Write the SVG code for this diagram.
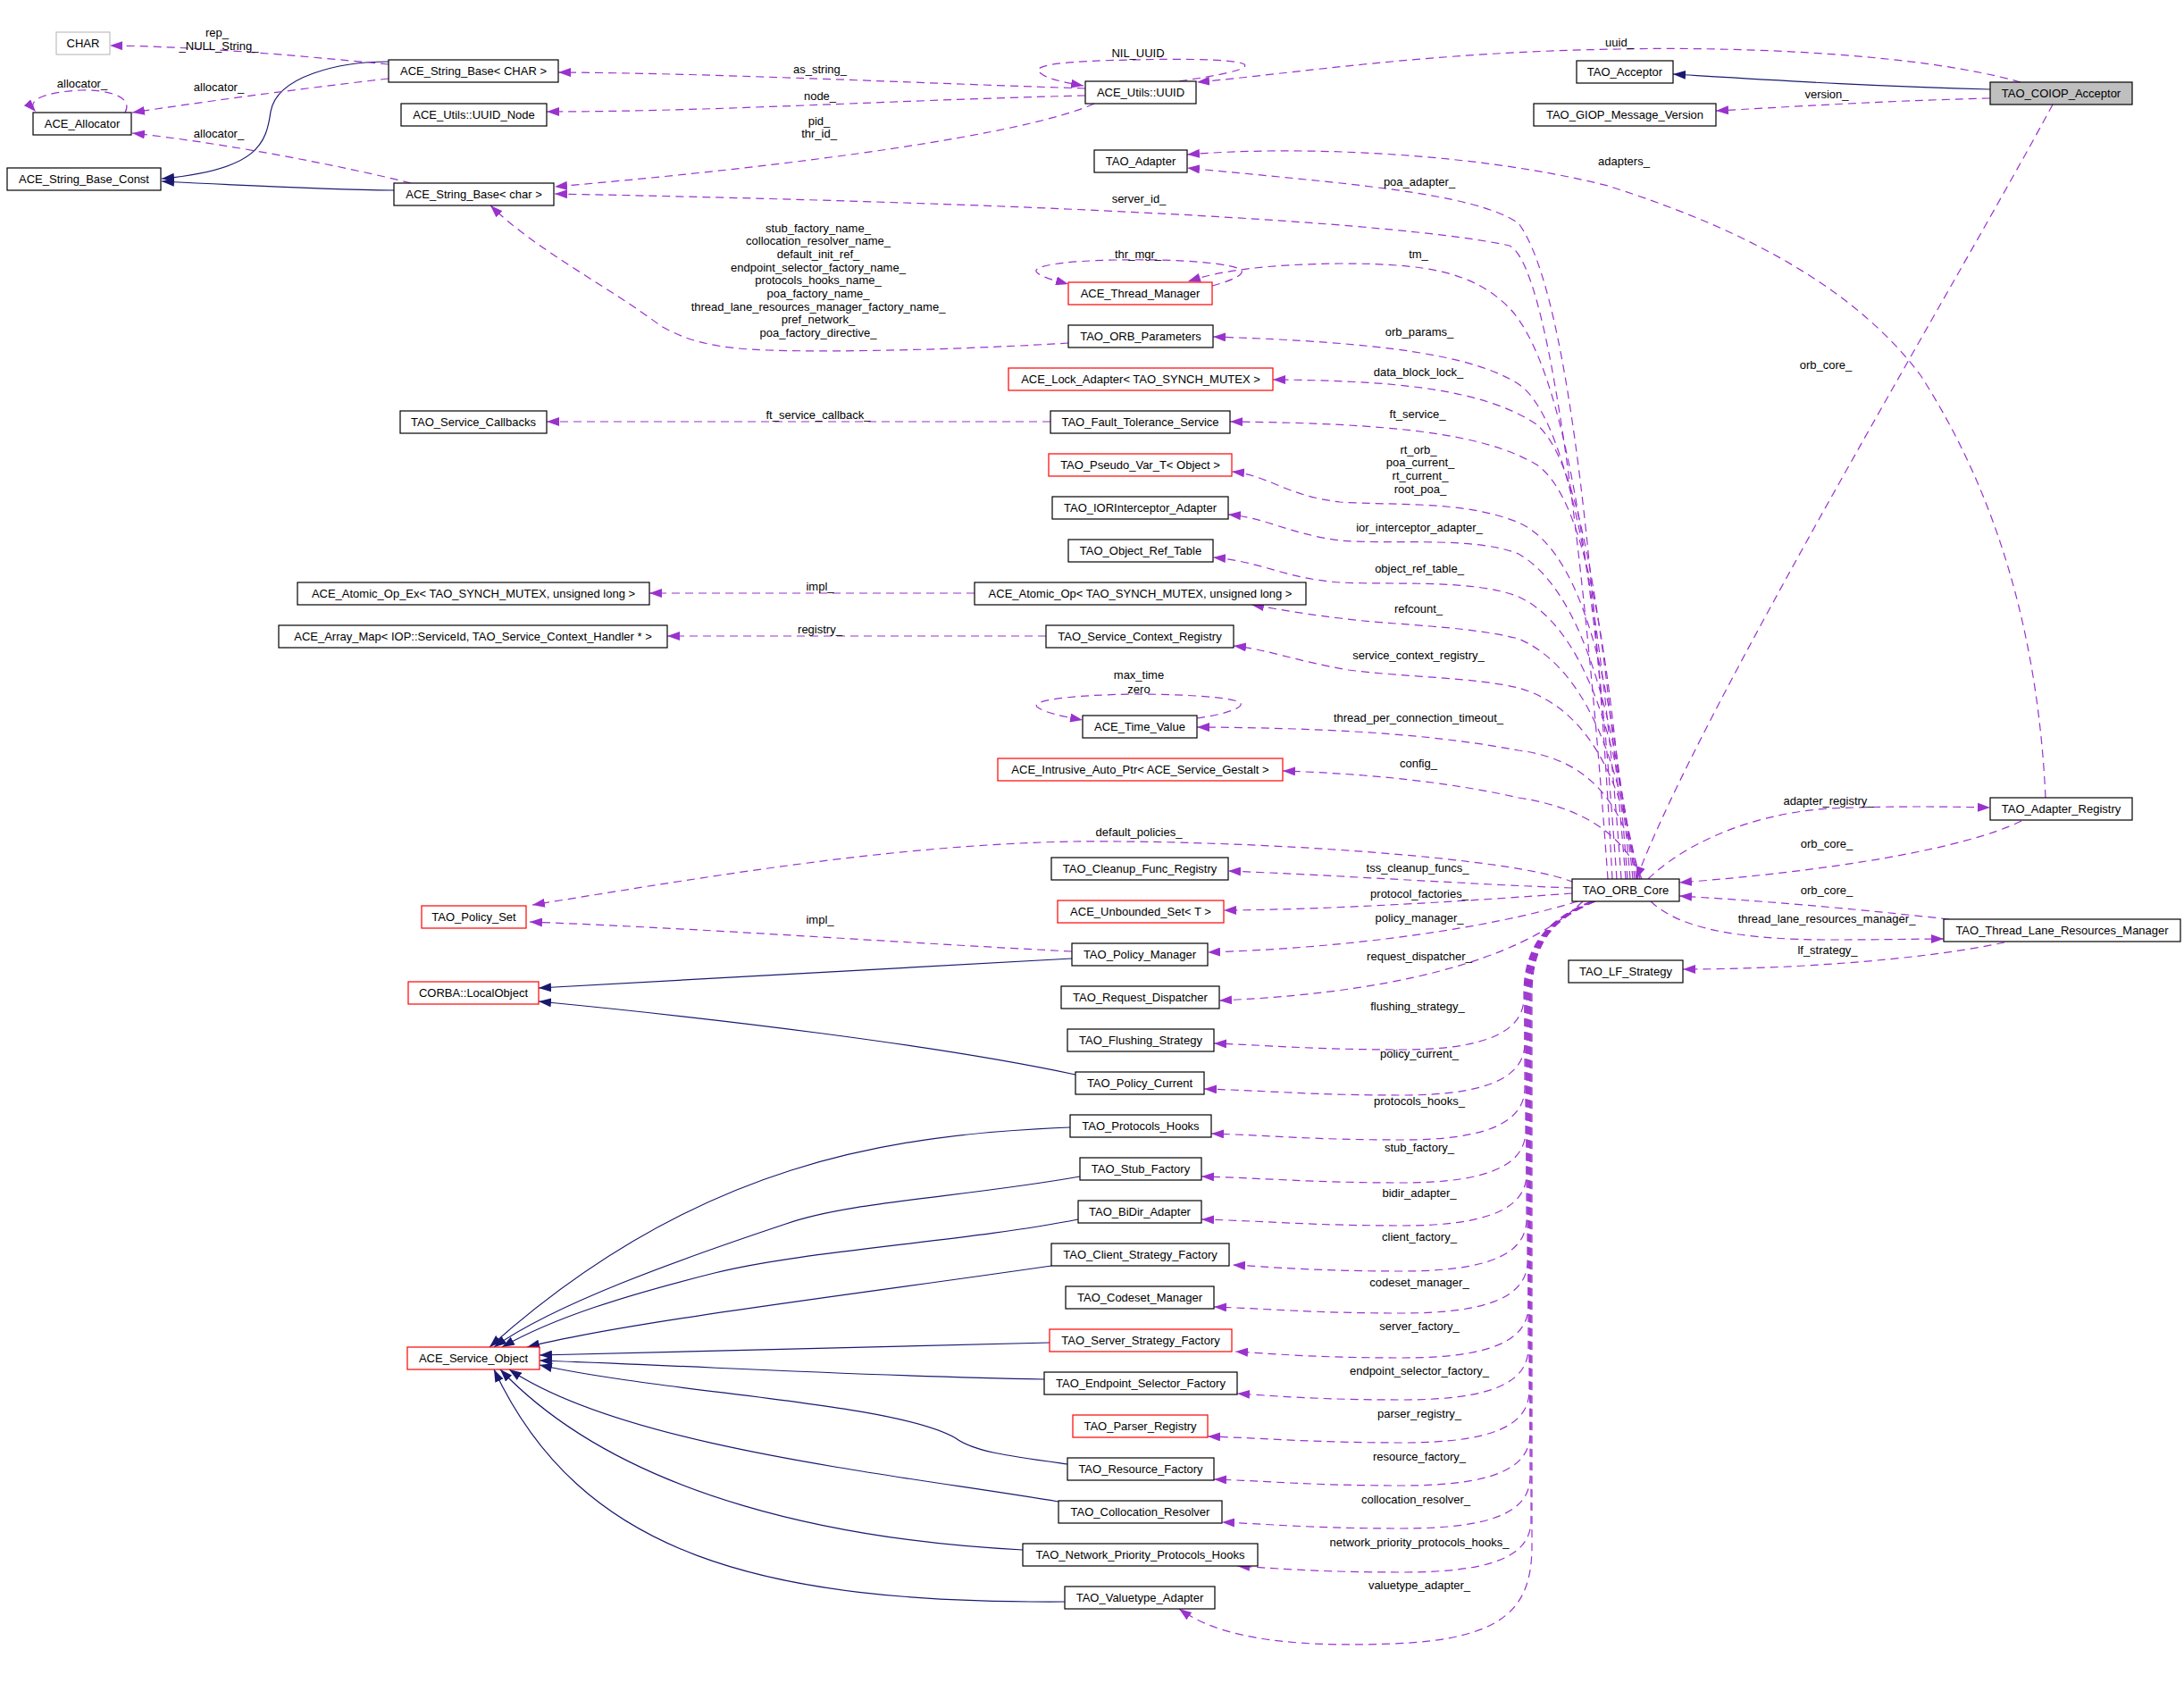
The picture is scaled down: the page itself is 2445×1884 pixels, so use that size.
<svg xmlns="http://www.w3.org/2000/svg" width="2445" height="1884" viewBox="0 0 2445 1884">
<style>
.n rect{fill:#fff;stroke:#000;stroke-width:1.2}
.n.r rect{stroke:#ff0000}
.n.g rect{stroke:#bfbfbf}
.n.f rect{fill:#bfbfbf}
text{font-family:"Liberation Sans",Arial,sans-serif;font-size:13px;fill:#000;text-anchor:middle}
.e path{fill:none;stroke:#9a32cd;stroke-width:1.2;stroke-dasharray:9,6;marker-end:url(#ap)}
.i path{fill:none;stroke:#191970;stroke-width:1.2;marker-end:url(#an)}
</style>
<defs>
<marker id="ap" viewBox="0 0 14 10" refX="14" refY="5" markerWidth="14" markerHeight="10" markerUnits="userSpaceOnUse" orient="auto"><path d="M0,0 L14,5 L0,10 z" fill="#9a32cd"/></marker>
<marker id="an" viewBox="0 0 14 10" refX="14" refY="5" markerWidth="14" markerHeight="10" markerUnits="userSpaceOnUse" orient="auto"><path d="M0,0 L14,5 L0,10 z" fill="#191970"/></marker>
</defs>
<rect width="2445" height="1884" fill="#fff"/>
<g id="connectors">
<g class="i">
<path d="M435 69 C380 69 310 85 303 125 C298 160 290 190 181 200"/>
<path d="M441 213 C360 212 280 208 181 203"/>
<path d="M2228 100 C2100 97 1990 90 1873 83"/>
<path d="M1200 1073 C1000 1085 800 1095 603 1106"/>
<path d="M1204 1203 C1050 1170 800 1140 603 1121"/>
<path d="M1198 1262 C1000 1270 780 1300 548 1508"/>
<path d="M1209 1317 C1080 1340 950 1345 880 1370 C760 1410 620 1460 553 1508"/>
<path d="M1207 1365 C1080 1390 900 1400 800 1425 C700 1450 620 1475 562 1508"/>
<path d="M1177 1417 C950 1450 700 1480 590 1508"/>
<path d="M1175 1503 C900 1508 750 1512 604 1517"/>
<path d="M1169 1544 C950 1540 800 1530 604 1523"/>
<path d="M1195 1639 C1130 1630 1090 1625 1070 1610 C1000 1570 750 1560 604 1528"/>
<path d="M1185 1681 C1000 1650 700 1620 570 1533"/>
<path d="M1145 1735 C950 1725 700 1680 560 1533"/>
<path d="M1192 1793 C850 1795 650 1740 553 1533"/>
</g>
<g class="e">
<path d="M435 72 C330 62 220 52 123 51"/>
<path d="M435 88 C330 100 220 115 148 126"/>
<path d="M140 126 C150 108 120 100 90 101 C50 103 28 112 40 125"/>
<path d="M460 205 C380 185 250 160 148 149"/>
<path d="M1215 99 C1000 92 800 82 625 81"/>
<path d="M1215 107 C1000 112 800 125 612 125"/>
<path d="M1225 116 C1150 150 900 185 621 209"/>
<path d="M1320 91 C1360 85 1400 78 1393 72 C1380 65 1300 66 1270 67 C1200 68 1150 72 1165 82 C1172 88 1190 92 1213 96"/>
<path d="M2262 92 C2150 60 1950 52 1813 55 C1600 58 1450 82 1340 92"/>
<path d="M2228 110 C2100 113 2000 120 1921 124"/>
<path d="M2298 117 C2200 300 1900 800 1832 984"/>
<path d="M2290 893 C2282 720 2240 560 2150 420 C2060 300 1900 240 1800 208 C1650 170 1450 163 1329 173"/>
<path d="M1805 984 C1790 700 1760 330 1700 250 C1650 215 1500 205 1329 188"/>
<path d="M1800 984 C1780 700 1740 300 1690 275 C1600 255 1300 230 621 217"/>
<path d="M1810 984 C1790 700 1760 420 1690 345 C1650 305 1600 295 1500 295 C1420 296 1370 302 1330 315"/>
<path d="M1357 320 C1380 314 1400 305 1385 300 C1360 292 1300 290 1250 291 C1190 292 1150 298 1162 306 C1170 312 1185 315 1196 318"/>
<path d="M1815 984 C1795 700 1760 470 1700 430 C1650 398 1550 383 1358 377"/>
<path d="M1196 384 C1100 390 950 395 860 392 C800 390 770 382 740 365 C680 320 600 280 549 230"/>
<path d="M1820 984 C1800 740 1775 520 1720 475 C1660 435 1560 426 1425 425"/>
<path d="M1176 472 L612 472"/>
<path d="M1822 984 C1805 760 1780 560 1720 520 C1660 485 1560 474 1377 472"/>
<path d="M1825 984 C1810 800 1780 620 1700 585 C1640 560 1560 566 1500 562 C1440 555 1420 532 1379 528"/>
<path d="M1828 984 C1810 800 1770 660 1700 620 C1650 600 1560 610 1500 605 C1440 597 1420 580 1375 576"/>
<path d="M1830 984 C1812 820 1770 700 1700 668 C1650 648 1560 655 1500 652 C1440 648 1410 628 1358 624"/>
<path d="M1091 664 L727 664"/>
<path d="M1832 984 C1812 840 1770 745 1700 715 C1640 700 1560 700 1500 692 C1450 686 1420 680 1401 677"/>
<path d="M1171 712 L747 712"/>
<path d="M1834 984 C1815 860 1770 790 1700 770 C1650 758 1570 758 1510 750 C1450 740 1420 727 1381 723"/>
<path d="M1340 804 C1370 800 1395 792 1388 786 C1375 780 1320 777 1270 777 C1200 778 1150 784 1162 792 C1170 798 1190 802 1212 806"/>
<path d="M1836 984 C1818 900 1780 850 1700 840 C1620 825 1520 815 1340 814"/>
<path d="M1838 984 C1820 940 1780 905 1700 893 C1620 875 1530 866 1436 863"/>
<path d="M1762 988 C1700 960 1400 940 1200 942 C1000 946 800 980 596 1013"/>
<path d="M1760 994 C1650 990 1500 980 1375 975"/>
<path d="M1760 1000 C1650 1008 1500 1018 1370 1019"/>
<path d="M1766 1009 C1700 1030 1550 1060 1352 1066"/>
<path d="M1200 1065 C1000 1055 800 1040 593 1032"/>
<path d="M1772 1009 C1720 1060 1600 1110 1365 1120"/>
<path d="M1782 1009 C1730 1030 1707 1060 1706 1110 L1706 1118 C1705 1156 1660 1175 1570 1175 C1470 1175 1420 1170 1359 1168"/>
<path d="M1782 1009 C1730 1030 1708 1060 1707 1110 L1707 1169 C1706 1207 1662 1226 1570 1226 C1470 1226 1420 1221 1348 1219"/>
<path d="M1782 1009 C1730 1030 1708 1060 1707 1110 L1707 1219 C1706 1257 1663 1276 1570 1276 C1470 1276 1420 1271 1356 1269"/>
<path d="M1783 1009 C1731 1030 1709 1060 1708 1110 L1708 1267 C1707 1305 1664 1324 1570 1324 C1470 1324 1420 1319 1345 1317"/>
<path d="M1783 1009 C1731 1030 1710 1060 1709 1110 L1709 1315 C1708 1353 1665 1372 1570 1372 C1470 1372 1420 1367 1345 1365"/>
<path d="M1783 1009 C1731 1030 1710 1060 1709 1110 L1709 1366 C1708 1404 1666 1423 1570 1423 C1470 1423 1420 1418 1380 1416"/>
<path d="M1784 1009 C1732 1030 1711 1060 1710 1110 L1710 1413 C1709 1451 1667 1470 1570 1470 C1470 1470 1420 1465 1359 1463"/>
<path d="M1784 1009 C1732 1030 1712 1060 1711 1110 L1711 1463 C1710 1501 1668 1520 1570 1520 C1470 1520 1420 1515 1383 1513"/>
<path d="M1784 1009 C1732 1030 1712 1060 1711 1110 L1711 1510 C1710 1548 1669 1567 1570 1567 C1470 1567 1420 1562 1385 1560"/>
<path d="M1785 1009 C1733 1030 1713 1060 1712 1110 L1712 1558 C1711 1596 1670 1615 1570 1615 C1470 1615 1420 1610 1352 1608"/>
<path d="M1785 1009 C1733 1030 1714 1060 1713 1110 L1713 1606 C1712 1644 1671 1663 1570 1663 C1470 1663 1420 1658 1359 1656"/>
<path d="M1785 1009 C1733 1030 1714 1060 1713 1110 L1713 1654 C1712 1692 1672 1711 1570 1711 C1470 1711 1420 1706 1368 1704"/>
<path d="M1786 1009 C1734 1030 1715 1060 1714 1110 L1714 1703 C1713 1741 1673 1760 1570 1760 C1470 1760 1420 1755 1385 1753"/>
<path d="M1786 1009 C1734 1030 1716 1060 1715 1110 L1715 1730 C1715 1800 1685 1835 1560 1840 C1430 1845 1360 1830 1320 1801"/>
<path d="M1845 984 C1880 950 1950 912 2047 905 C2120 902 2180 903 2228 904"/>
<path d="M2263 919 C2200 950 2050 975 1880 988"/>
<path d="M2182 1029 C2100 1020 2000 1010 1880 1003"/>
<path d="M1848 1009 C1880 1040 1950 1052 2050 1052 C2110 1052 2150 1051 2176 1051"/>
<path d="M2244 1055 C2150 1075 2000 1085 1884 1085"/>
</g>
<g id="edge-labels">
<text x="243" y="41">rep_</text>
<text x="245" y="56">_NULL_String_</text>
<text x="245" y="102">allocator_</text>
<text x="92" y="98">allocator_</text>
<text x="245" y="154">allocator_</text>
<text x="918" y="82">as_string_</text>
<text x="918" y="112">node_</text>
<text x="917" y="140">pid_</text>
<text x="917" y="154">thr_id_</text>
<text x="1274" y="64">NIL_UUID</text>
<text x="1813" y="52">uuid_</text>
<text x="2045" y="110">version_</text>
<text x="2044" y="413">orb_core_</text>
<text x="1818" y="185">adapters_</text>
<text x="1589" y="208">poa_adapter_</text>
<text x="1275" y="227">server_id_</text>
<text x="1588" y="289">tm_</text>
<text x="1274" y="289">thr_mgr_</text>
<text x="1589" y="376">orb_params_</text>
<text x="916" y="260">stub_factory_name_</text>
<text x="916" y="274">collocation_resolver_name_</text>
<text x="916" y="289">default_init_ref_</text>
<text x="916" y="304">endpoint_selector_factory_name_</text>
<text x="916" y="318">protocols_hooks_name_</text>
<text x="916" y="333">poa_factory_name_</text>
<text x="916" y="348">thread_lane_resources_manager_factory_name_</text>
<text x="916" y="362">pref_network_</text>
<text x="916" y="377">poa_factory_directive_</text>
<text x="1588" y="421">data_block_lock_</text>
<text x="916" y="469">ft_service_callback_</text>
<text x="1587" y="468">ft_service_</text>
<text x="1588" y="508">rt_orb_</text>
<text x="1590" y="522">poa_current_</text>
<text x="1590" y="537">rt_current_</text>
<text x="1590" y="552">root_poa_</text>
<text x="1589" y="595">ior_interceptor_adapter_</text>
<text x="1589" y="641">object_ref_table_</text>
<text x="918" y="661">impl_</text>
<text x="1588" y="686">refcount_</text>
<text x="918" y="709">registry_</text>
<text x="1588" y="738">service_context_registry_</text>
<text x="1275" y="760">max_time</text>
<text x="1275" y="776">zero</text>
<text x="1588" y="808">thread_per_connection_timeout_</text>
<text x="1588" y="859">config_</text>
<text x="1275" y="936">default_policies_</text>
<text x="1587" y="976">tss_cleanup_funcs_</text>
<text x="1589" y="1005">protocol_factories_</text>
<text x="1589" y="1032">policy_manager_</text>
<text x="918" y="1034">impl_</text>
<text x="1589" y="1075">request_dispatcher_</text>
<text x="1587" y="1131">flushing_strategy_</text>
<text x="1589" y="1184">policy_current_</text>
<text x="1589" y="1237">protocols_hooks_</text>
<text x="1589" y="1289">stub_factory_</text>
<text x="1589" y="1340">bidir_adapter_</text>
<text x="1589" y="1389">client_factory_</text>
<text x="1589" y="1440">codeset_manager_</text>
<text x="1589" y="1489">server_factory_</text>
<text x="1589" y="1539">endpoint_selector_factory_</text>
<text x="1589" y="1587">parser_registry_</text>
<text x="1589" y="1635">resource_factory_</text>
<text x="1585" y="1683">collocation_resolver_</text>
<text x="1589" y="1731">network_priority_protocols_hooks_</text>
<text x="1589" y="1779">valuetype_adapter_</text>
<text x="2047" y="901">adapter_registry_</text>
<text x="2045" y="949">orb_core_</text>
<text x="2045" y="1001">orb_core_</text>
<text x="2045" y="1033">thread_lane_resources_manager_</text>
<text x="2046" y="1068">lf_strategy_</text>
</g>
</g>
<g id="n1" class="n g"><rect x="63" y="36" width="60" height="25"/><text x="93" y="53">CHAR</text></g>
<g id="n2" class="n"><rect x="435" y="67" width="190" height="25"/><text x="530" y="84">ACE_String_Base&lt; CHAR &gt;</text></g>
<g id="n3" class="n"><rect x="37" y="126" width="110" height="25"/><text x="92" y="143">ACE_Allocator</text></g>
<g id="n4" class="n"><rect x="8" y="188" width="172" height="25"/><text x="94" y="205">ACE_String_Base_Const</text></g>
<g id="n5" class="n"><rect x="441" y="205" width="179" height="25"/><text x="530.5" y="222">ACE_String_Base&lt; char &gt;</text></g>
<g id="n6" class="n"><rect x="449" y="116" width="163" height="25"/><text x="530.5" y="133">ACE_Utils::UUID_Node</text></g>
<g id="n7" class="n"><rect x="1215" y="91" width="124" height="25"/><text x="1277" y="108">ACE_Utils::UUID</text></g>
<g id="n8" class="n"><rect x="1225" y="168" width="104" height="25"/><text x="1277" y="185">TAO_Adapter</text></g>
<g id="n9" class="n"><rect x="1765" y="68" width="108" height="25"/><text x="1819" y="85">TAO_Acceptor</text></g>
<g id="n10" class="n"><rect x="1717" y="116" width="204" height="25"/><text x="1819" y="133">TAO_GIOP_Message_Version</text></g>
<g id="n11" class="n f"><rect x="2228" y="92" width="159" height="25"/><text x="2307.5" y="109">TAO_COIOP_Acceptor</text></g>
<g id="n12" class="n r"><rect x="1196" y="316" width="161" height="25"/><text x="1276.5" y="333">ACE_Thread_Manager</text></g>
<g id="n13" class="n"><rect x="1196" y="364" width="162" height="25"/><text x="1277" y="381">TAO_ORB_Parameters</text></g>
<g id="n14" class="n r"><rect x="1129" y="412" width="296" height="25"/><text x="1277" y="429">ACE_Lock_Adapter&lt; TAO_SYNCH_MUTEX &gt;</text></g>
<g id="n15" class="n"><rect x="1176" y="460" width="201" height="25"/><text x="1276.5" y="477">TAO_Fault_Tolerance_Service</text></g>
<g id="n16" class="n"><rect x="448" y="460" width="164" height="25"/><text x="530" y="477">TAO_Service_Callbacks</text></g>
<g id="n17" class="n r"><rect x="1174" y="508" width="205" height="25"/><text x="1276.5" y="525">TAO_Pseudo_Var_T&lt; Object &gt;</text></g>
<g id="n18" class="n"><rect x="1178" y="556" width="197" height="25"/><text x="1276.5" y="573">TAO_IORInterceptor_Adapter</text></g>
<g id="n19" class="n"><rect x="1196" y="604" width="162" height="25"/><text x="1277" y="621">TAO_Object_Ref_Table</text></g>
<g id="n20" class="n"><rect x="333" y="652" width="394" height="25"/><text x="530" y="669">ACE_Atomic_Op_Ex&lt; TAO_SYNCH_MUTEX, unsigned long &gt;</text></g>
<g id="n21" class="n"><rect x="1091" y="652" width="371" height="25"/><text x="1276.5" y="669">ACE_Atomic_Op&lt; TAO_SYNCH_MUTEX, unsigned long &gt;</text></g>
<g id="n22" class="n"><rect x="312" y="700" width="435" height="25"/><text x="529.5" y="717">ACE_Array_Map&lt; IOP::ServiceId, TAO_Service_Context_Handler * &gt;</text></g>
<g id="n23" class="n"><rect x="1171" y="700" width="210" height="25"/><text x="1276" y="717">TAO_Service_Context_Registry</text></g>
<g id="n24" class="n"><rect x="1212" y="801" width="128" height="25"/><text x="1276" y="818">ACE_Time_Value</text></g>
<g id="n25" class="n r"><rect x="1117" y="849" width="319" height="25"/><text x="1276.5" y="866">ACE_Intrusive_Auto_Ptr&lt; ACE_Service_Gestalt &gt;</text></g>
<g id="n26" class="n"><rect x="1177" y="960" width="198" height="25"/><text x="1276" y="977">TAO_Cleanup_Func_Registry</text></g>
<g id="n27" class="n r"><rect x="472" y="1014" width="117" height="25"/><text x="530.5" y="1031">TAO_Policy_Set</text></g>
<g id="n28" class="n r"><rect x="1184" y="1008" width="186" height="25"/><text x="1277" y="1025">ACE_Unbounded_Set&lt; T &gt;</text></g>
<g id="n29" class="n"><rect x="1200" y="1056" width="152" height="25"/><text x="1276" y="1073">TAO_Policy_Manager</text></g>
<g id="n30" class="n r"><rect x="457" y="1099" width="146" height="25"/><text x="530" y="1116">CORBA::LocalObject</text></g>
<g id="n31" class="n"><rect x="1188" y="1104" width="177" height="25"/><text x="1276.5" y="1121">TAO_Request_Dispatcher</text></g>
<g id="n32" class="n"><rect x="1195" y="1152" width="164" height="25"/><text x="1277" y="1169">TAO_Flushing_Strategy</text></g>
<g id="n33" class="n"><rect x="1204" y="1200" width="144" height="25"/><text x="1276" y="1217">TAO_Policy_Current</text></g>
<g id="n34" class="n"><rect x="1198" y="1248" width="158" height="25"/><text x="1277" y="1265">TAO_Protocols_Hooks</text></g>
<g id="n35" class="n"><rect x="1209" y="1296" width="136" height="25"/><text x="1277" y="1313">TAO_Stub_Factory</text></g>
<g id="n36" class="n"><rect x="1207" y="1344" width="138" height="25"/><text x="1276" y="1361">TAO_BiDir_Adapter</text></g>
<g id="n37" class="n"><rect x="1177" y="1392" width="199" height="25"/><text x="1276.5" y="1409">TAO_Client_Strategy_Factory</text></g>
<g id="n38" class="n"><rect x="1193" y="1440" width="166" height="25"/><text x="1276" y="1457">TAO_Codeset_Manager</text></g>
<g id="n39" class="n r"><rect x="1175" y="1488" width="204" height="25"/><text x="1277" y="1505">TAO_Server_Strategy_Factory</text></g>
<g id="n40" class="n"><rect x="1169" y="1536" width="216" height="25"/><text x="1277" y="1553">TAO_Endpoint_Selector_Factory</text></g>
<g id="n41" class="n r"><rect x="1201" y="1584" width="151" height="25"/><text x="1276.5" y="1601">TAO_Parser_Registry</text></g>
<g id="n42" class="n"><rect x="1195" y="1632" width="164" height="25"/><text x="1277" y="1649">TAO_Resource_Factory</text></g>
<g id="n43" class="n r"><rect x="456" y="1508" width="148" height="25"/><text x="530" y="1525">ACE_Service_Object</text></g>
<g id="n44" class="n"><rect x="1185" y="1680" width="183" height="25"/><text x="1276.5" y="1697">TAO_Collocation_Resolver</text></g>
<g id="n45" class="n"><rect x="1145" y="1728" width="263" height="25"/><text x="1276.5" y="1745">TAO_Network_Priority_Protocols_Hooks</text></g>
<g id="n46" class="n"><rect x="1192" y="1776" width="168" height="25"/><text x="1276" y="1793">TAO_Valuetype_Adapter</text></g>
<g id="n47" class="n"><rect x="2228" y="893" width="159" height="25"/><text x="2307.5" y="910">TAO_Adapter_Registry</text></g>
<g id="n48" class="n"><rect x="1760" y="984" width="120" height="25"/><text x="1820" y="1001">TAO_ORB_Core</text></g>
<g id="n49" class="n"><rect x="2176" y="1029" width="265" height="25"/><text x="2308.5" y="1046">TAO_Thread_Lane_Resources_Manager</text></g>
<g id="n50" class="n"><rect x="1756" y="1075" width="128" height="25"/><text x="1820" y="1092">TAO_LF_Strategy</text></g>
</svg>
